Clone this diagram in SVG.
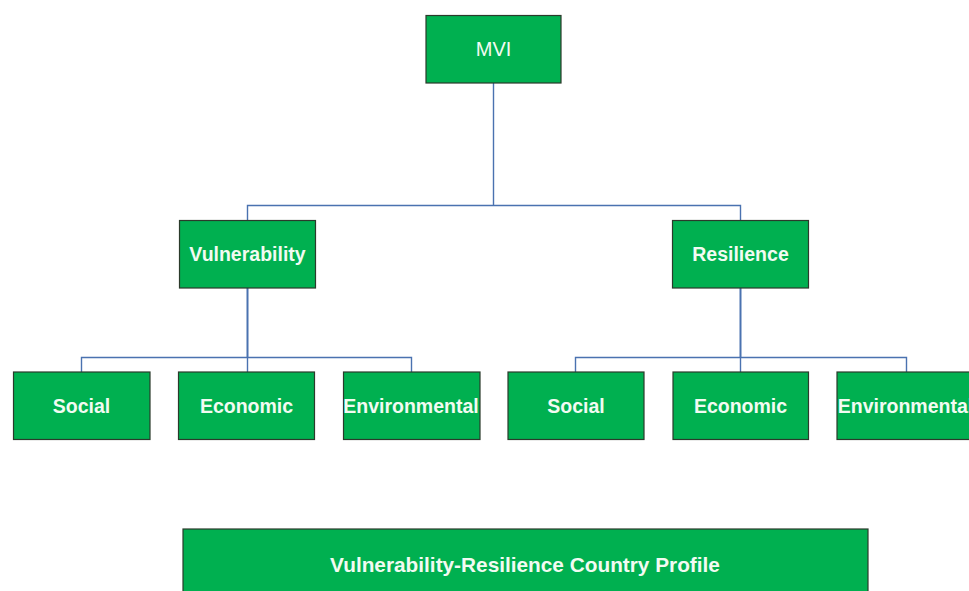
<svg xmlns="http://www.w3.org/2000/svg" width="969" height="591" viewBox="0 0 969 591">
<style>
.box{fill:#00B050;stroke:#2b3a2b;stroke-width:1.2}
.t{font-family:"Liberation Sans",Arial,sans-serif;font-size:19.5px;font-weight:bold;fill:#f2fbf2;text-anchor:middle;dominant-baseline:central}
.n{font-weight:normal;font-size:20px}
.p{font-size:20.8px}
.c{fill:none;stroke:#4a72b0;stroke-width:1.4}
.v{stroke-width:2}
</style>
<rect width="969" height="591" fill="#ffffff"/>
<g id="connectors">
<path class="c" d="M493.5 83V205.5M247.5 220V205.5H740.5V220"/>
<path class="c" d="M81.5 372V357.5H411.5V372M247.5 357.5V372"/>
<path class="c" d="M575.5 372V357.5H906.5V372M740.5 357.5V372"/>
<path class="c v" d="M247.5 288V357.5M740.5 288V357.5"/>
</g>
<g id="mvi"><rect class="box" x="426" y="15.5" width="135" height="67.5"/><text class="t n" x="493.5" y="49">MVI</text></g>
<g id="vulnerability"><rect class="box" x="179.5" y="220.5" width="136" height="67.5"/><text class="t" x="247.5" y="254">Vulnerability</text></g>
<g id="resilience"><rect class="box" x="672.5" y="220.5" width="136" height="67.5"/><text class="t" x="740.5" y="254">Resilience</text></g>
<g id="v-social"><rect class="box" x="13.5" y="372" width="136.5" height="67.5"/><text class="t" x="81.5" y="405.5">Social</text></g>
<g id="v-economic"><rect class="box" x="178.5" y="372" width="136" height="67.5"/><text class="t" x="246.5" y="405.5">Economic</text></g>
<g id="v-environmental"><rect class="box" x="343.5" y="372" width="136.5" height="67.5"/><text class="t" x="411" y="405.5">Environmental</text></g>
<g id="r-social"><rect class="box" x="508" y="372" width="136" height="67.5"/><text class="t" x="576" y="405.5">Social</text></g>
<g id="r-economic"><rect class="box" x="673" y="372" width="135.5" height="67.5"/><text class="t" x="740.5" y="405.5">Economic</text></g>
<g id="r-environmental"><rect class="box" x="837" y="372" width="137" height="67.5"/><text class="t" x="905.5" y="405.5">Environmental</text></g>
<g id="profile"><rect class="box" x="183" y="529" width="685" height="70"/><text class="t p" x="525" y="564">Vulnerability-Resilience Country Profile</text></g>
</svg>
